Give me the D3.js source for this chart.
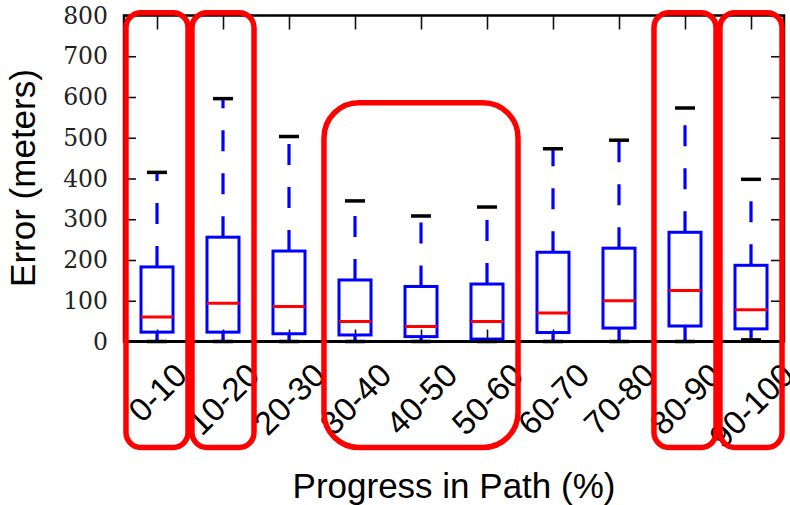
<!DOCTYPE html>
<html>
<head>
<meta charset="utf-8">
<script src="https://cdn.jsdelivr.net/npm/d3@7"></script>
<style>
  body { margin: 0; background: #fff; }
  svg { display: block; }
</style>
</head>
<body>
<div id="chart"></div>
<script>
// box statistics per path-progress bin (meters)
const categories = ["0-10", "10-20", "20-30", "30-40", "40-50", "50-60", "60-70", "70-80", "80-90", "90-100"];
const whiskerLow  = [0, 0, 0, 0, 0, 0, 0, 0, 0, 4];
const q1          = [23, 23, 19, 16, 12, 6, 22, 33, 38, 31];
const median      = [60, 94, 86, 49, 37, 49, 70, 100, 125, 78];
const q3          = [183, 256, 222, 151, 135, 141, 219, 229, 268, 187];
const whiskerHigh = [415, 596, 503, 345, 308, 330, 473, 494, 573, 398];
const yTicks = [0, 100, 200, 300, 400, 500, 600, 700, 800];

// red highlight groups (first bin, last bin, top value)
const hlFrom = ["0-10", "10-20", "30-40", "80-90", "90-100"];
const hlTo   = ["0-10", "10-20", "50-60", "80-90", "90-100"];
const hlTop  = [807, 807, 586, 807, 807];

const width = 790, height = 505;
const margins = {left: 124, right: 6, top: 15.5, bottom: 163.5};

const svg = d3.select("#chart").append("svg")
    .attr("width", width)
    .attr("height", height);

const x = d3.scalePoint()
    .domain(categories)
    .range([margins.left, width - margins.right])
    .padding(0.5);
const y = d3.scaleLinear()
    .domain([0, 800])
    .range([height - margins.bottom, margins.top]);

const x0 = margins.left, x1 = width - margins.right;
const y0 = y(0), yTop = y(800);
const step = x.step();

// axes with inward ticks
const gLeft = svg.append("g")
    .attr("transform", "translate(" + x0 + ",0)")
    .call(d3.axisLeft(y).tickValues(yTicks).tickSizeInner(-12).tickSizeOuter(0).tickPadding(16));
gLeft.selectAll("text")
    .style("font-family", "'DejaVu Serif', serif")
    .style("font-size", "23.5px")
    .attr("fill", "#222");

svg.append("g")
    .attr("transform", "translate(" + x1 + ",0)")
    .call(d3.axisRight(y).tickValues(yTicks).tickSizeInner(-13).tickSizeOuter(0).tickFormat(""));
svg.append("g")
    .attr("transform", "translate(0," + yTop + ")")
    .call(d3.axisTop(x).tickSizeInner(-14).tickSizeOuter(0).tickFormat(""));

const gBottom = svg.append("g")
    .attr("transform", "translate(0," + y0 + ")")
    .call(d3.axisBottom(x).tickSizeInner(-12).tickSizeOuter(0));
svg.selectAll(".domain").remove();
svg.selectAll(".tick line").attr("stroke", "#111").attr("stroke-width", 1.6);

const labelTop = 361 - y0;
gBottom.selectAll("text")
    .style("font-family", "'Liberation Sans', Arial, sans-serif")
    .style("font-size", "33px")
    .attr("fill", "#000")
    .attr("text-anchor", "middle")
    .attr("dy", null)
    .attr("y", 0)
    .attr("dominant-baseline", "central")
    .attr("transform", function() {
        const w = this.getComputedTextLength();
        const cy = labelTop + (w + 23) * 0.3536;
        return "translate(0," + cy + ") rotate(-45)";
    });

// frame
svg.append("rect")
    .attr("x", x0).attr("y", yTop)
    .attr("width", x1 - x0).attr("height", y0 - yTop)
    .attr("fill", "none").attr("stroke", "#000").attr("stroke-width", 2.5);
svg.append("line")
    .attr("x1", x0).attr("x2", x1).attr("y1", y0).attr("y2", y0)
    .attr("stroke", "#000").attr("stroke-width", 3);

// boxplots
const boxW = step * 0.485;
const capW = 20;
const rows = categories.map((c, i) => ({
    cat: c, lo: whiskerLow[i], q1: q1[i], med: median[i], q3: q3[i], hi: whiskerHigh[i]
}));

const gBox = svg.append("g").selectAll("g").data(rows).enter().append("g");

gBox.append("rect")
    .attr("x", d => x(d.cat) - boxW / 2)
    .attr("y", d => y(d.q3))
    .attr("width", boxW)
    .attr("height", d => y(d.q1) - y(d.q3))
    .attr("fill", "none")
    .attr("stroke", "#0000ff")
    .attr("stroke-width", 3);
gBox.append("line")
    .attr("x1", d => x(d.cat) - boxW / 2).attr("x2", d => x(d.cat) + boxW / 2)
    .attr("y1", d => y(d.med)).attr("y2", d => y(d.med))
    .attr("stroke", "#ff0000").attr("stroke-width", 3);
gBox.append("line")
    .attr("x1", d => x(d.cat)).attr("x2", d => x(d.cat))
    .attr("y1", d => y(d.q3)).attr("y2", d => y(d.hi))
    .attr("stroke", "#0000ff").attr("stroke-width", 3.2)
    .attr("stroke-dasharray", "21,22");
gBox.append("line")
    .attr("x1", d => x(d.cat)).attr("x2", d => x(d.cat))
    .attr("y1", d => y(d.q1)).attr("y2", d => y(d.lo))
    .attr("stroke", "#0000ff").attr("stroke-width", 3.2)
    .attr("stroke-dasharray", "21,22");
gBox.append("line")
    .attr("x1", d => x(d.cat) - capW / 2).attr("x2", d => x(d.cat) + capW / 2)
    .attr("y1", d => y(d.hi)).attr("y2", d => y(d.hi))
    .attr("stroke", "#000").attr("stroke-width", 3.5);
gBox.append("line")
    .attr("x1", d => x(d.cat) - capW / 2).attr("x2", d => x(d.cat) + capW / 2)
    .attr("y1", d => y(d.lo)).attr("y2", d => y(d.lo))
    .attr("stroke", "#000").attr("stroke-width", 3.5);

// axis titles
svg.append("text")
    .attr("x", (x0 + x1) / 2).attr("y", 498)
    .attr("text-anchor", "middle")
    .style("font-family", "'Liberation Sans', Arial, sans-serif")
    .style("font-size", "35px")
    .text("Progress in Path (%)");
svg.append("text")
    .attr("transform", "translate(34.5,178) rotate(-90)")
    .attr("text-anchor", "middle")
    .style("font-family", "'Liberation Sans', Arial, sans-serif")
    .style("font-size", "35px")
    .text("Error (meters)");

// red highlight outlines
const hl = hlFrom.map((f, i) => ({from: f, to: hlTo[i], top: hlTop[i]}));
const pad = step * 0.47;
svg.append("g").selectAll("rect").data(hl).enter().append("rect")
    .attr("x", d => x(d.from) - pad)
    .attr("y", d => y(d.top))
    .attr("width", d => x(d.to) - x(d.from) + 2 * pad)
    .attr("height", d => y0 + 106 - y(d.top))
    .attr("rx", d => Math.min(35, (x(d.to) - x(d.from) + 2 * pad) * 0.24))
    .attr("fill", "none")
    .attr("stroke", "#ff0000")
    .attr("stroke-width", 5.5);
</script>
</body>
</html>
